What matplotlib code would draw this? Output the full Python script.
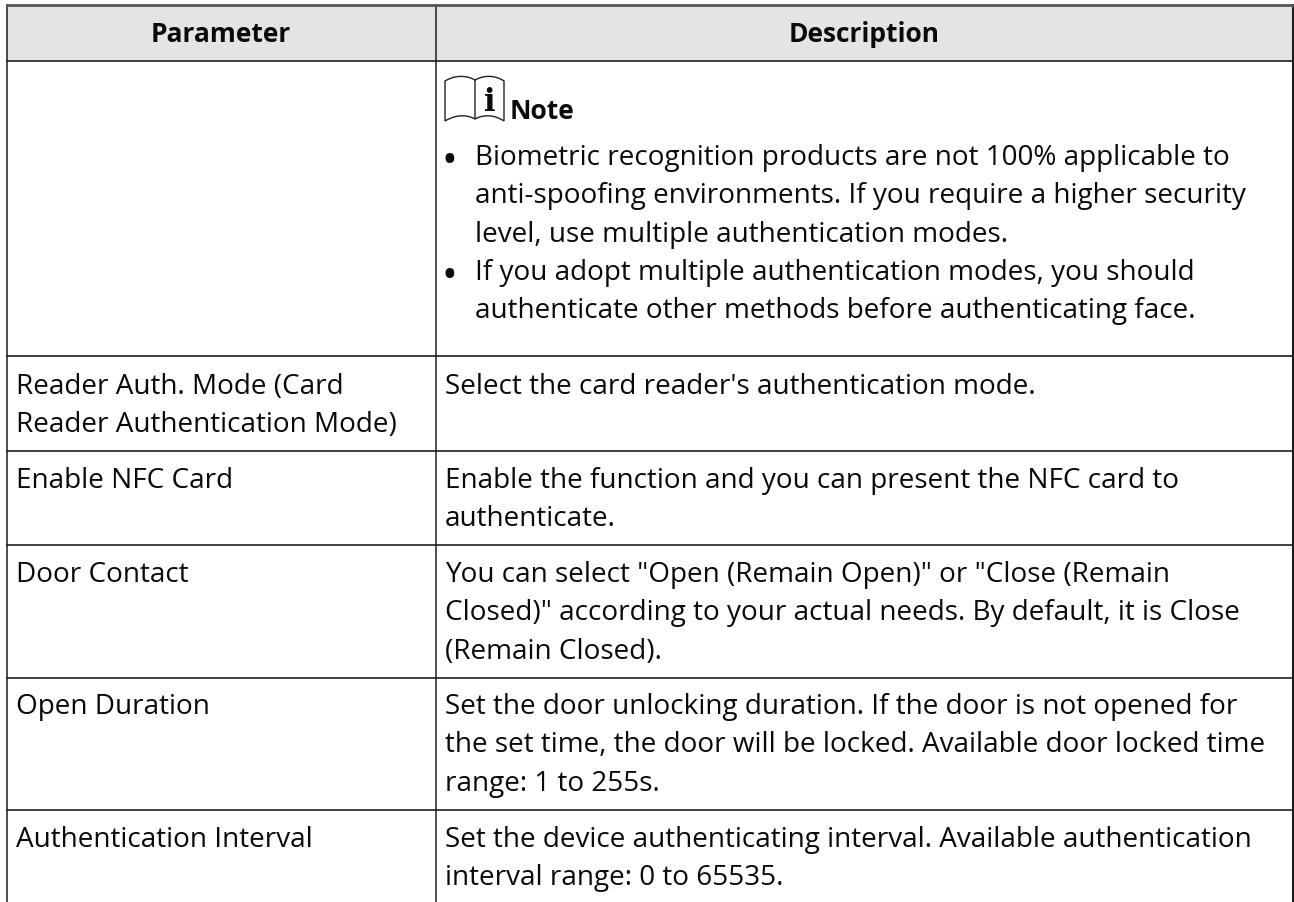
import matplotlib
matplotlib.use("Agg")
from matplotlib import pyplot as plt
from matplotlib.patches import PathPatch, Rectangle
from matplotlib.path import Path

headers = ["Parameter", "Description"]
parameters = [
    ["Reader Auth. Mode (Card", "Reader Authentication Mode)"],
    ["Enable NFC Card"],
    ["Door Contact"],
    ["Open Duration"],
    ["Authentication Interval"],
]
descriptions = [
    ["Select the card reader's authentication mode."],
    ["Enable the function and you can present the NFC card to", "authenticate."],
    ["You can select \"Open (Remain Open)\" or \"Close (Remain",
     "Closed)\" according to your actual needs. By default, it is Close",
     "(Remain Closed)."],
    ["Set the door unlocking duration. If the door is not opened for",
     "the set time, the door will be locked. Available door locked time",
     "range: 1 to 255s."],
    ["Set the device authenticating interval. Available authentication",
     "interval range: 0 to 65535."],
]
note_title = "Note"
note_bullets = [
    ["Biometric recognition products are not 100% applicable to",
     "anti-spoofing environments. If you require a higher security",
     "level, use multiple authentication modes."],
    ["If you adopt multiple authentication modes, you should",
     "authenticate other methods before authenticating face."],
]

W, H = 1294, 903
col_x = [6.5, 435.5, 1293]
row_y = [6, 61.5, 357, 452, 546, 679, 811]
baselines = [394, 488, 582, 714, 847]
bullet_baselines = [165, 280]
PITCH = 38.4
FS = 20.1
BOLD_FS = 19
TEXT = "#0a0a0a"
LINE = "#1e1e1e"

plt.rcParams["font.family"] = ["Open Sans", "DejaVu Sans"]
fig = plt.figure(figsize=(W / 100, H / 100), dpi=100)
ax = fig.add_axes([0, 0, 1, 1])
ax.set_xlim(0, W)
ax.set_ylim(H, 0)
ax.axis("off")


def draw_lines(x, y, lines):
    for n, line in enumerate(lines):
        ax.text(x, y + n * PITCH, line, va="baseline", fontsize=FS, color=TEXT)


# table grid
ax.add_patch(Rectangle((col_x[0], row_y[0]), col_x[2] - col_x[0], row_y[1] - row_y[0],
                       facecolor="#e4e4e4", edgecolor="none"))
for x in col_x:
    ax.plot([x, x], [row_y[0], H], color=LINE, lw=1.1 if x != col_x[2] else 1.5)
for i, y in enumerate(row_y):
    ax.plot([col_x[0], col_x[2]], [y, y], color="#555555" if i == 0 else LINE,
            lw=2 if i == 0 else 1.2)

ax.text((col_x[0] + col_x[1]) / 2, 42, headers[0], ha="center", va="baseline",
        fontsize=BOLD_FS, fontweight="bold", color=TEXT)
ax.text((col_x[1] + col_x[2]) / 2, 42, headers[1], ha="center", va="baseline",
        fontsize=BOLD_FS, fontweight="bold", color=TEXT)

for y, param, desc in zip(baselines, parameters, descriptions):
    draw_lines(16, y, param)
    draw_lines(445, y, desc)

# note icon, open book with an i
C4 = Path.CURVE4
book = Path(
    [(445, 122), (445, 82), (455, 76), (466, 76), (475, 81),
     (484, 76), (495, 76), (504, 82), (504, 122),
     (495, 116), (484, 115), (475, 120), (466, 115), (455, 116), (445, 122),
     (475, 81), (475, 120)],
    [Path.MOVETO, Path.LINETO, C4, C4, C4, C4, C4, C4, Path.LINETO,
     C4, C4, C4, C4, C4, C4, Path.MOVETO, Path.LINETO],
)
ax.add_patch(PathPatch(book, facecolor="none", edgecolor="#222222", lw=1.0))
ax.text(490, 111, "i", ha="center", va="baseline", fontsize=22, fontweight="bold",
        family="DejaVu Serif", color=TEXT)
ax.text(510, 119, note_title, va="baseline", fontsize=BOLD_FS, fontweight="bold", color=TEXT)

for y, bullet in zip(bullet_baselines, note_bullets):
    ax.text(449, y + 8, "•", ha="center", va="baseline", fontsize=30, color=TEXT)
    draw_lines(475, y, bullet)

fig.savefig("out.png", dpi=100)
